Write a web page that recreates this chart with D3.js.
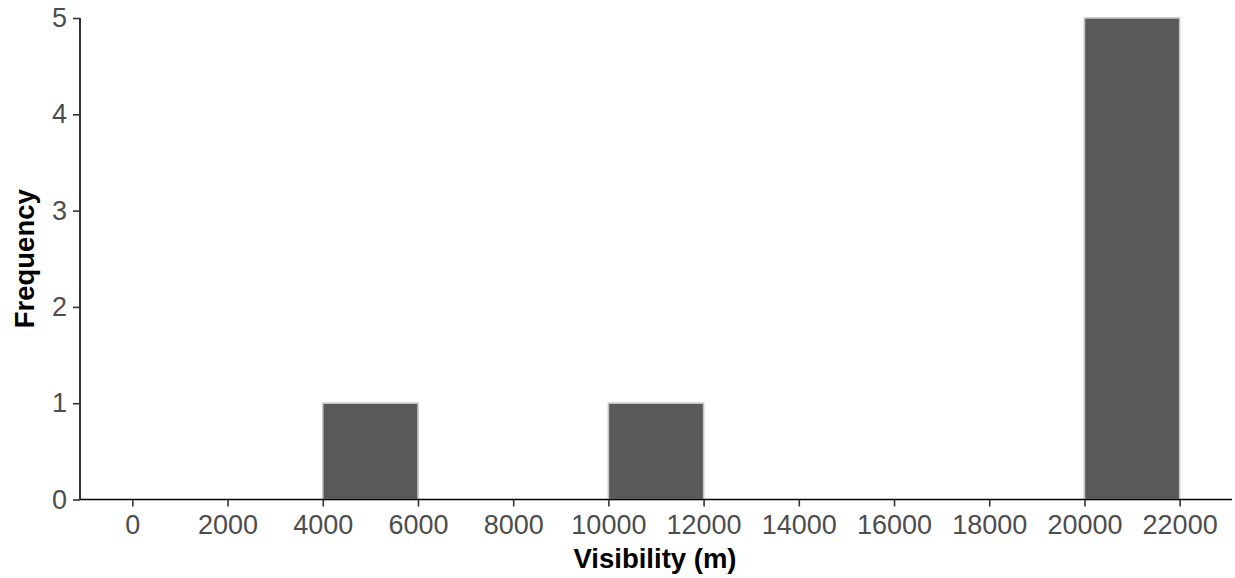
<!DOCTYPE html>
<html><head><meta charset="utf-8">
<script src="https://cdn.jsdelivr.net/npm/d3@7"></script>
<style>body{margin:0;background:#fff}svg{display:block}text{font-family:"Liberation Sans",Arial,sans-serif}</style>
</head><body><svg id="c" width="1235" height="578"></svg>
<script>
const binStarts = [0,2000,4000,6000,8000,10000,12000,14000,16000,18000,20000];
const binWidth = 2000;
const counts = [0,0,1,0,0,1,0,0,0,0,5];
const xTicks = [0,2000,4000,6000,8000,10000,12000,14000,16000,18000,20000,22000];
const yTicks = [0,1,2,3,4,5];

const svg = d3.select("#c");
const L=80, R=1232, T=18, B=499.5;
const x = d3.scaleLinear().domain([-1100,23100]).range([L,R]);
const y = d3.scaleLinear().domain([0,5]).range([B,T]);

svg.append("g").selectAll("rect").data(binStarts.map((s,i)=>({s,c:counts[i]})).filter(d=>d.c>0))
  .join("rect")
  .attr("x",d=>x(d.s)).attr("width",d=>x(d.s+binWidth)-x(d.s))
  .attr("y",d=>y(d.c)).attr("height",d=>y(0)-y(d.c))
  .attr("fill","#595959").attr("stroke","#c4c4c4").attr("stroke-width",1.6);

const xa = svg.append("g").attr("transform",`translate(0,${B})`)
  .call(d3.axisBottom(x).tickValues(xTicks).tickFormat(d3.format("d")).tickSize(7).tickPadding(5));
const ya = svg.append("g").attr("transform",`translate(${L},0)`)
  .call(d3.axisLeft(y).tickValues(yTicks).tickFormat(d3.format("d")).tickSize(7).tickPadding(6));
[xa,ya].forEach(a=>{
  a.select(".domain").attr("stroke","#000").attr("stroke-width",1.6);
  a.selectAll(".tick line").attr("stroke","#333").attr("stroke-width",1.6);
  a.selectAll(".tick text").attr("fill","#4d4d4d").style("font-size","27px");
});
xa.selectAll(".tick text").attr("dy","0.71em").attr("y",15);
ya.select(".domain").attr("d",`M0,${B}V${T}`);
xa.select(".domain").attr("d",`M${L},0H${R}`);

svg.append("text").attr("x",(L+R)/2-1).attr("y",568).attr("text-anchor","middle")
  .style("font-size","27.5px").style("font-weight","bold").attr("fill","#000").text("Visibility (m)");
svg.append("text").attr("transform",`translate(34,${(T+B)/2}) rotate(-90)`).attr("text-anchor","middle")
  .style("font-size","27.5px").style("font-weight","bold").attr("fill","#000").text("Frequency");
</script></body></html>
